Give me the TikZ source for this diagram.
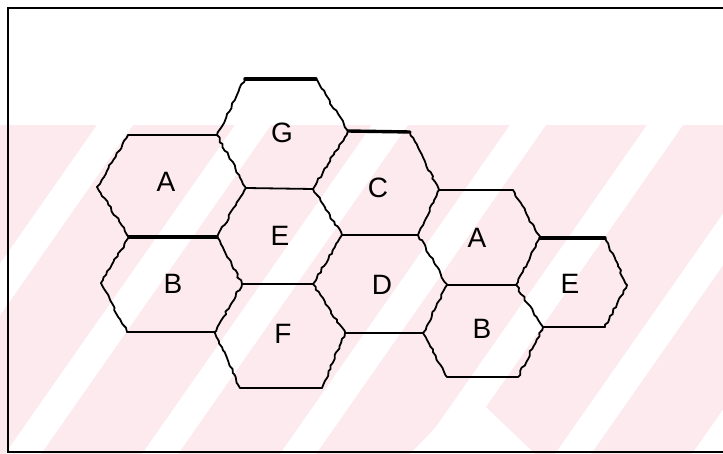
\documentclass[tikz,border=0pt]{standalone}
\usepackage{fontspec}
\setmainfont{Liberation Sans}
\usetikzlibrary{decorations.pathmorphing}

\begin{document}
\begin{tikzpicture}[x=1pt, y=-1pt,
    cellEdge/.style={draw=black, line width=1.8pt, line join=round, line cap=round},
    boldEdge/.style={cellEdge, line width=3.4pt},
    rough/.style={decorate, decoration={random steps, segment length=3.5pt, amplitude=1.1pt}},
    cellLabel/.style={font=\fontsize{28}{30}\selectfont, inner sep=0pt}]

    \definecolor{watermarkPink}{HTML}{FDEAEE}
    \pgfmathsetseed{7}

    \useasboundingbox (0,0) rectangle (723,454);

    % Faint watermark behind the cells
    \begin{scope}
        \clip (0,125) rectangle (723,454);
        \fill[watermarkPink] (0,125) rectangle (723,454);
        \foreach \s in {-252,-115,23,160,298,435,573,710}
            \fill[white] (\s-18,454) -- (\s+18,454) -- (\s+248,125) -- (\s+212,125) -- cycle;
        \fill[white] (470,392) -- (535,454) -- (410,454) -- cycle;
    \end{scope}

    % Frame
    \draw[line width=1.6pt] (725,8) -- (8,8) -- (8,452) -- (725,452);

    % Cell corners, row by row
    \coordinate (g1) at (245,79);   \coordinate (g2) at (316,79);
    \coordinate (a1) at (128,135);  \coordinate (a2) at (217,135);
    \coordinate (c1) at (348,131);  \coordinate (c2) at (410,132);
    \coordinate (l1) at (97,187);   \coordinate (m1) at (246,188);
    \coordinate (m2) at (313,189);  \coordinate (m3) at (439,190);
    \coordinate (m4) at (513,190);
    \coordinate (n1) at (129,237);  \coordinate (n2) at (217,237);
    \coordinate (n3) at (342,235);  \coordinate (n4) at (418,235);
    \coordinate (n5) at (540,238);  \coordinate (n6) at (605,238);
    \coordinate (p1) at (101,283);  \coordinate (p2) at (242,284);
    \coordinate (p3) at (313,284);  \coordinate (p4) at (447,285);
    \coordinate (p5) at (516,285);  \coordinate (p6) at (627,285);
    \coordinate (q1) at (127,332);  \coordinate (q2) at (215,332);
    \coordinate (q3) at (345,333);  \coordinate (q4) at (423,333);
    \coordinate (q5) at (543,327);  \coordinate (q6) at (605,327);
    \coordinate (r1) at (240,388);  \coordinate (r2) at (322,388);
    \coordinate (s1) at (447,377);  \coordinate (s2) at (518,377);

    % Slanted sides (hand drawn, a little rough)
    \foreach \u/\v in {a1/l1, l1/n1, a2/m1, m1/n2, g1/a2, g2/c1, c1/m2,
                       m2/n3, n3/p3, p2/n2, p2/q2, q1/p1, p1/n1, p3/q3,
                       q3/r2, r1/q2, c2/m3, m3/n4, n4/p4, p4/q4, m4/n5,
                       n5/p5, p5/q5, q5/s2, s1/q4, n6/p6, p6/q6}
        \draw[cellEdge, rough] (\u) -- (\v);

    % Flat sides
    \foreach \u/\v in {a1/a2, m3/m4, m1/m2, n3/n4, p2/p3, p4/p5,
                       q1/q2, q3/q4, q5/q6, r1/r2, s1/s2}
        \draw[cellEdge] (\u) -- (\v);
    \foreach \u/\v in {g1/g2, c1/c2, n1/n2, n5/n6}
        \draw[boldEdge] (\u) -- (\v);

    % Cell letters
    \node[cellLabel] (labelG)  at (282,133) {G};
    \node[cellLabel] (labelAl) at (166,182) {A};
    \node[cellLabel] (labelBl) at (173,284) {B};
    \node[cellLabel] (labelEl) at (280,236) {E};
    \node[cellLabel] (labelF)  at (283,334) {F};
    \node[cellLabel] (labelC)  at (378,188) {C};
    \node[cellLabel] (labelD)  at (382,285) {D};
    \node[cellLabel] (labelAr) at (477,238) {A};
    \node[cellLabel] (labelBr) at (482,329) {B};
    \node[cellLabel] (labelEr) at (570,284) {E};

\end{tikzpicture}
\end{document}
